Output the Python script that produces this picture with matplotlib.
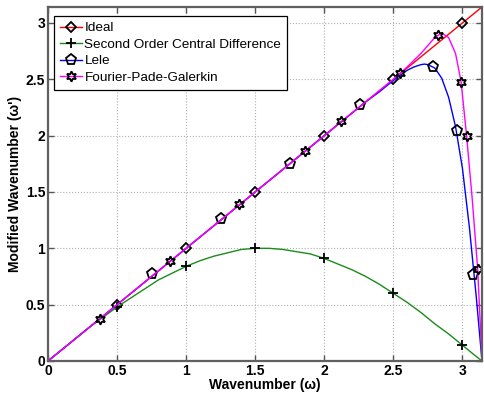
import matplotlib.pyplot as plt
from matplotlib.legend_handler import HandlerTuple

# Ideal line
ideal_x = [0, 3.1416]
ideal_y = [0, 3.1416]
ideal_mx = [0.5, 1.0, 1.5, 2.0, 2.5, 3.0]
ideal_my = [0.5, 1.0, 1.5, 2.0, 2.5, 3.0]

# Second order central difference
cd2_x = [0, 0.1, 0.2, 0.3, 0.4, 0.5, 0.6, 0.7, 0.8, 0.9, 1.0, 1.1, 1.2, 1.3, 1.4, 1.5,
         1.6, 1.7, 1.8, 1.9, 2.0, 2.1, 2.2, 2.3, 2.4, 2.5, 2.6, 2.7, 2.8, 2.9, 3.0, 3.1, 3.1416]
cd2_y = [0, 0.10, 0.20, 0.30, 0.39, 0.48, 0.56, 0.64, 0.72, 0.78, 0.84, 0.89, 0.93, 0.96, 0.99, 1.00,
         1.00, 0.99, 0.97, 0.95, 0.91, 0.86, 0.81, 0.75, 0.68, 0.60, 0.52, 0.43, 0.33, 0.24, 0.14, 0.04, 0]
cd2_mx = [0.5, 1.0, 1.5, 2.0, 2.5, 3.0]
cd2_my = [0.48, 0.84, 1.00, 0.91, 0.60, 0.14]

# Lele
lele_x = [0, 2.3, 2.4, 2.5, 2.6, 2.65, 2.7, 2.725, 2.75, 2.8, 2.85, 2.9, 2.95, 3.0, 3.05, 3.1, 3.1416]
lele_y = [0, 2.30, 2.39, 2.49, 2.58, 2.61, 2.63, 2.635, 2.63, 2.60, 2.51, 2.34, 2.08, 1.71, 1.19, 0.57, 0]
lele_mx = [0.75, 1.25, 1.75, 2.26, 2.79, 2.96, 3.08]
lele_my = [0.77, 1.26, 1.75, 2.27, 2.61, 2.04, 0.76]

# Fourier-Pade-Galerkin
fpg_x = [0, 2.5, 2.6, 2.7, 2.8, 2.85, 2.9, 2.95, 2.99, 3.03, 3.07, 3.11, 3.1416]
fpg_y = [0, 2.50, 2.61, 2.73, 2.87, 2.91, 2.87, 2.73, 2.48, 2.00, 1.45, 0.82, 0]
fpg_mx = [0.38, 0.88, 1.38, 1.86, 2.12, 2.55, 2.82, 2.99, 3.03, 3.11]
fpg_my = [0.37, 0.89, 1.39, 1.86, 2.13, 2.56, 2.89, 2.48, 2.00, 0.82]

plt.rcParams['font.family'] = ['Liberation Sans', 'DejaVu Sans']

fig = plt.figure(figsize=(4.84, 3.94), dpi=100)
ax = fig.add_axes([48/484, 33/394, 434/484, 354/394])

mk = dict(linestyle='none', markerfacecolor='none', markeredgecolor='black', markeredgewidth=1.3)

l1, = ax.plot(ideal_x, ideal_y, color='#ff0000', lw=1)
m1, = ax.plot(ideal_mx, ideal_my, marker='D', markersize=5.5, **mk)
l2, = ax.plot(cd2_x, cd2_y, color='#1a8c1a', lw=1)
m2, = ax.plot(cd2_mx, cd2_my, marker='+', markersize=7, linestyle='none', color='black', markeredgewidth=1.3)
l3, = ax.plot(lele_x, lele_y, color='#0000ff', lw=1)
m3, = ax.plot(lele_mx, lele_my, marker='p', markersize=8, **mk)
l4, = ax.plot(fpg_x, fpg_y, color='#ff00ff', lw=1)
m4, = ax.plot(fpg_mx, fpg_my, marker=(6, 1, 0), markersize=7.5, **mk)

ax.set_xlim(0, 3.1416)
ax.set_ylim(0, 3.1416)
ax.set_xticks([0, 0.5, 1, 1.5, 2, 2.5, 3])
ax.set_xticklabels(['0', '0.5', '1', '1.5', '2', '2.5', '3'])
ax.set_yticks([0, 0.5, 1, 1.5, 2, 2.5, 3])
ax.set_yticklabels(['0', '0.5', '1', '1.5', '2', '2.5', '3'])
ax.tick_params(direction='in', top=True, right=True, length=4, width=1, color='#555555',
               labelsize=10, pad=2)
for lab in ax.get_xticklabels() + ax.get_yticklabels():
    lab.set_fontweight('bold')
for s in ax.spines.values():
    s.set_color('#606060')
    s.set_linewidth(1.6)
ax.grid(True, linestyle=':', color='#b0b0b0', lw=0.8)

ax.set_xlabel('Wavenumber (ω)', fontsize=10, fontweight='bold', labelpad=0)
ax.set_ylabel("Modified Wavenumber (ω')", fontsize=10, fontweight='bold', labelpad=3)

leg = ax.legend([(l1, m1), (l2, m2), (l3, m3), (l4, m4)],
                ['Ideal', 'Second Order Central Difference', 'Lele', 'Fourier-Pade-Galerkin'],
                handler_map={tuple: HandlerTuple(ndivide=1)},
                loc='upper left', bbox_to_anchor=(0.014, 0.975), borderaxespad=0,
                fancybox=False, framealpha=1, edgecolor='black', fontsize=9.7,
                handlelength=1.6, handletextpad=0.2, labelspacing=0.3, borderpad=0.45)
leg.get_frame().set_linewidth(0.9)

fig.savefig('out.png', dpi=100)
